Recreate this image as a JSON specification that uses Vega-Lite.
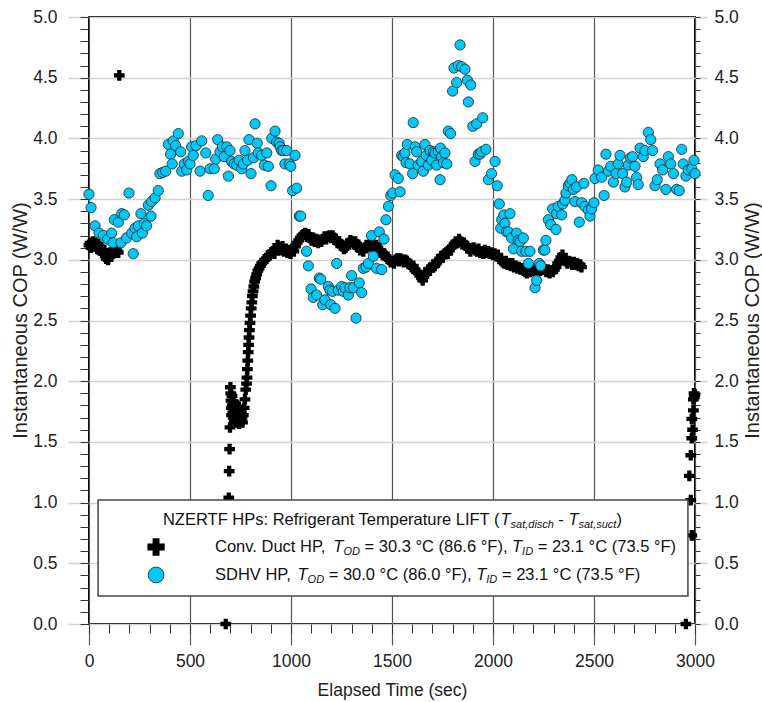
{
"$schema": "https://vega.github.io/schema/vega-lite/v6.json",
"width": 606, "height": 607,
"autosize": {"type": "none"},
"padding": {"left": 89, "top": 17, "right": 67, "bottom": 78},
"background": "white",
"config": {"view": {"stroke": "black", "strokeWidth": 2}, "axis": {"domain": false, "labelOverlap": false, "labelFlush": false}},
"datasets": {
"duct": [
{"t":0,"cop":3.12},{"t":5,"cop":3.14},{"t":10,"cop":3.10},{"t":15,"cop":3.13},{"t":20,"cop":3.15},{"t":25,"cop":3.11},{"t":30,"cop":3.14},{"t":35,"cop":3.12},{"t":40,"cop":3.09},{"t":45,"cop":3.13},{"t":50,"cop":3.11},{"t":55,"cop":3.08},{"t":60,"cop":3.10},{"t":65,"cop":3.06},{"t":70,"cop":3.05},{"t":75,"cop":3.08},{"t":80,"cop":3.03},{"t":85,"cop":3.01},{"t":90,"cop":3.04},{"t":95,"cop":3.00},{"t":100,"cop":3.03},{"t":105,"cop":3.06},{"t":110,"cop":3.04},{"t":115,"cop":3.07},{"t":120,"cop":3.05},{"t":125,"cop":3.08},{"t":130,"cop":3.06},{"t":135,"cop":3.09},{"t":140,"cop":3.07},{"t":145,"cop":3.06},
{"t":150,"cop":4.52},
{"t":677,"cop":0.0},{"t":692,"cop":1.04},{"t":694,"cop":1.26},{"t":696,"cop":1.44},{"t":698,"cop":1.62},
{"t":700,"cop":1.95},{"t":702,"cop":1.90},{"t":703,"cop":1.84},{"t":705,"cop":1.78},{"t":706,"cop":1.72},{"t":708,"cop":1.88},{"t":710,"cop":1.80},{"t":712,"cop":1.74},{"t":714,"cop":1.70},{"t":716,"cop":1.83},{"t":718,"cop":1.77},{"t":720,"cop":1.68},{"t":723,"cop":1.75},{"t":726,"cop":1.81},{"t":728,"cop":1.70},{"t":731,"cop":1.66},{"t":734,"cop":1.73},{"t":737,"cop":1.79},{"t":740,"cop":1.69},{"t":743,"cop":1.65},{"t":746,"cop":1.72},{"t":750,"cop":1.68},{"t":754,"cop":1.74},{"t":757,"cop":1.70},{"t":760,"cop":1.66},{"t":764,"cop":1.72},{"t":768,"cop":1.78},{"t":772,"cop":1.85},{"t":776,"cop":1.93},
{"t":780,"cop":1.98},{"t":782,"cop":2.03},{"t":784,"cop":2.10},{"t":786,"cop":2.17},{"t":788,"cop":2.24},{"t":790,"cop":2.30},{"t":792,"cop":2.36},{"t":794,"cop":2.42},{"t":797,"cop":2.48},{"t":800,"cop":2.54},{"t":803,"cop":2.60},{"t":806,"cop":2.65},{"t":809,"cop":2.70},{"t":812,"cop":2.74},{"t":816,"cop":2.78},{"t":820,"cop":2.82},{"t":825,"cop":2.85},{"t":830,"cop":2.88},{"t":836,"cop":2.91},{"t":842,"cop":2.93},{"t":848,"cop":2.95},{"t":855,"cop":2.97},{"t":862,"cop":2.98},{"t":870,"cop":3.00},{"t":878,"cop":3.01},{"t":886,"cop":3.03},{"t":894,"cop":3.04},{"t":902,"cop":3.06},{"t":910,"cop":3.07},{"t":918,"cop":3.05},{"t":926,"cop":3.09},{"t":934,"cop":3.12},{"t":942,"cop":3.10},{"t":950,"cop":3.08},{"t":958,"cop":3.11},{"t":966,"cop":3.07},{"t":974,"cop":3.09},{"t":982,"cop":3.06},{"t":990,"cop":3.08},{"t":998,"cop":3.05},{"t":1006,"cop":3.09},{"t":1014,"cop":3.07},{"t":1022,"cop":3.11},{"t":1030,"cop":3.14},{"t":1038,"cop":3.16},{"t":1046,"cop":3.18},{"t":1054,"cop":3.20},{"t":1062,"cop":3.21},{"t":1070,"cop":3.22},{"t":1078,"cop":3.19},{"t":1086,"cop":3.21},{"t":1094,"cop":3.18},{"t":1102,"cop":3.16},{"t":1110,"cop":3.18},{"t":1118,"cop":3.15},{"t":1126,"cop":3.17},{"t":1134,"cop":3.14},{"t":1142,"cop":3.16},{"t":1150,"cop":3.15},{"t":1158,"cop":3.17},{"t":1166,"cop":3.19},{"t":1174,"cop":3.17},{"t":1182,"cop":3.19},{"t":1190,"cop":3.20},{"t":1198,"cop":3.18},{"t":1206,"cop":3.20},{"t":1214,"cop":3.18},{"t":1222,"cop":3.16},{"t":1230,"cop":3.14},{"t":1238,"cop":3.15},{"t":1246,"cop":3.13},{"t":1254,"cop":3.11},{"t":1262,"cop":3.09},{"t":1270,"cop":3.10},{"t":1278,"cop":3.12},{"t":1286,"cop":3.14},{"t":1294,"cop":3.16},{"t":1302,"cop":3.15},{"t":1310,"cop":3.13},{"t":1318,"cop":3.15},{"t":1326,"cop":3.13},{"t":1334,"cop":3.10},{"t":1342,"cop":3.08},{"t":1350,"cop":3.09},{"t":1358,"cop":3.07},{"t":1366,"cop":3.10},{"t":1374,"cop":3.12},{"t":1382,"cop":3.11},{"t":1390,"cop":3.13},{"t":1398,"cop":3.11},{"t":1406,"cop":3.13},{"t":1414,"cop":3.10},{"t":1422,"cop":3.12},{"t":1430,"cop":3.10},{"t":1438,"cop":3.08},{"t":1446,"cop":3.06},{"t":1454,"cop":3.04},{"t":1462,"cop":3.05},{"t":1470,"cop":3.03},{"t":1478,"cop":3.01},{"t":1486,"cop":3.00},{"t":1494,"cop":2.98},{"t":1502,"cop":2.99},{"t":1510,"cop":2.97},{"t":1518,"cop":3.00},{"t":1526,"cop":3.01},{"t":1534,"cop":2.99},{"t":1542,"cop":3.01},{"t":1550,"cop":3.00},{"t":1558,"cop":2.98},{"t":1566,"cop":3.00},{"t":1574,"cop":2.99},{"t":1582,"cop":2.97},{"t":1590,"cop":2.96},{"t":1598,"cop":2.94},{"t":1606,"cop":2.95},{"t":1614,"cop":2.92},{"t":1622,"cop":2.90},{"t":1630,"cop":2.89},{"t":1638,"cop":2.87},{"t":1646,"cop":2.85},{"t":1652,"cop":2.83},{"t":1658,"cop":2.86},{"t":1664,"cop":2.88},{"t":1672,"cop":2.90},{"t":1680,"cop":2.92},{"t":1688,"cop":2.91},{"t":1696,"cop":2.94},{"t":1704,"cop":2.96},{"t":1712,"cop":2.95},{"t":1720,"cop":2.97},{"t":1728,"cop":2.99},{"t":1736,"cop":3.01},{"t":1744,"cop":3.03},{"t":1752,"cop":3.02},{"t":1760,"cop":3.05},{"t":1768,"cop":3.06},{"t":1776,"cop":3.05},{"t":1784,"cop":3.08},{"t":1792,"cop":3.10},{"t":1800,"cop":3.11},{"t":1808,"cop":3.13},{"t":1816,"cop":3.15},{"t":1824,"cop":3.14},{"t":1832,"cop":3.17},{"t":1840,"cop":3.15},{"t":1848,"cop":3.13},{"t":1856,"cop":3.14},{"t":1864,"cop":3.12},{"t":1872,"cop":3.10},{"t":1880,"cop":3.09},{"t":1888,"cop":3.07},{"t":1896,"cop":3.09},{"t":1904,"cop":3.10},{"t":1912,"cop":3.08},{"t":1920,"cop":3.07},{"t":1928,"cop":3.09},{"t":1936,"cop":3.06},{"t":1944,"cop":3.07},{"t":1952,"cop":3.05},{"t":1960,"cop":3.08},{"t":1968,"cop":3.06},{"t":1976,"cop":3.07},{"t":1984,"cop":3.05},{"t":1992,"cop":3.06},{"t":2000,"cop":3.04},{"t":2008,"cop":3.05},{"t":2016,"cop":3.03},{"t":2024,"cop":3.04},{"t":2032,"cop":3.01},{"t":2040,"cop":3.00},{"t":2048,"cop":2.98},{"t":2056,"cop":2.97},{"t":2064,"cop":2.99},{"t":2072,"cop":2.96},{"t":2080,"cop":2.97},{"t":2088,"cop":2.95},{"t":2096,"cop":2.97},{"t":2104,"cop":2.94},{"t":2112,"cop":2.95},{"t":2120,"cop":2.93},{"t":2128,"cop":2.94},{"t":2136,"cop":2.92},{"t":2144,"cop":2.93},{"t":2152,"cop":2.91},{"t":2160,"cop":2.90},{"t":2168,"cop":2.89},{"t":2176,"cop":2.91},{"t":2184,"cop":2.90},{"t":2192,"cop":2.92},{"t":2200,"cop":2.91},{"t":2208,"cop":2.93},{"t":2216,"cop":2.90},{"t":2224,"cop":2.89},{"t":2232,"cop":2.91},{"t":2240,"cop":2.93},{"t":2248,"cop":2.94},{"t":2256,"cop":2.92},{"t":2264,"cop":2.90},{"t":2272,"cop":2.92},{"t":2280,"cop":2.89},{"t":2288,"cop":2.91},{"t":2296,"cop":2.90},{"t":2304,"cop":2.92},{"t":2312,"cop":2.94},{"t":2320,"cop":2.97},{"t":2328,"cop":2.99},{"t":2336,"cop":3.02},{"t":2344,"cop":3.04},{"t":2352,"cop":3.01},{"t":2360,"cop":2.99},{"t":2368,"cop":2.97},{"t":2376,"cop":2.99},{"t":2384,"cop":2.98},{"t":2392,"cop":2.96},{"t":2400,"cop":2.98},{"t":2408,"cop":2.96},{"t":2416,"cop":2.97},{"t":2424,"cop":2.95},{"t":2432,"cop":2.96},{"t":2438,"cop":2.94},
{"t":2955,"cop":0.0},{"t":2984,"cop":0.73},{"t":2979,"cop":1.02},{"t":2972,"cop":1.22},{"t":2979,"cop":1.39},{"t":2984,"cop":1.53},{"t":2988,"cop":1.60},{"t":2984,"cop":1.69},{"t":2992,"cop":1.76},{"t":2992,"cop":1.85},{"t":2995,"cop":1.90},{"t":3000,"cop":1.89},{"t":2997,"cop":1.87}
],
"sdhv": [
{"t":0,"cop":3.54},{"t":10,"cop":3.43},{"t":30,"cop":3.28},{"t":50,"cop":3.22},{"t":71,"cop":3.20},{"t":92,"cop":3.17},{"t":112,"cop":3.22},{"t":120,"cop":3.14},{"t":125,"cop":3.33},{"t":145,"cop":3.31},{"t":158,"cop":3.14},{"t":162,"cop":3.38},{"t":175,"cop":3.37},{"t":186,"cop":3.18},{"t":198,"cop":3.55},{"t":211,"cop":3.22},{"t":219,"cop":3.05},{"t":228,"cop":3.26},{"t":236,"cop":3.19},{"t":244,"cop":3.28},{"t":257,"cop":3.38},{"t":264,"cop":3.22},{"t":274,"cop":3.30},{"t":285,"cop":3.28},{"t":294,"cop":3.45},{"t":307,"cop":3.36},{"t":310,"cop":3.48},{"t":327,"cop":3.51},{"t":343,"cop":3.57},{"t":351,"cop":3.71},{"t":365,"cop":3.72},{"t":380,"cop":3.73},{"t":393,"cop":3.95},{"t":404,"cop":3.87},{"t":412,"cop":3.79},{"t":417,"cop":3.98},{"t":429,"cop":3.94},{"t":442,"cop":4.04},{"t":454,"cop":3.89},{"t":459,"cop":3.73},{"t":472,"cop":3.79},{"t":484,"cop":3.74},{"t":492,"cop":3.81},{"t":500,"cop":3.79},{"t":508,"cop":3.93},{"t":516,"cop":3.86},{"t":530,"cop":3.94},{"t":550,"cop":3.73},{"t":558,"cop":3.98},{"t":578,"cop":3.88},{"t":590,"cop":3.53},{"t":599,"cop":3.75},{"t":620,"cop":3.75},{"t":627,"cop":3.83},{"t":637,"cop":3.99},{"t":649,"cop":3.89},{"t":660,"cop":3.93},{"t":670,"cop":3.85},{"t":682,"cop":3.93},{"t":690,"cop":3.69},{"t":698,"cop":3.90},{"t":706,"cop":3.81},{"t":718,"cop":3.79},{"t":731,"cop":3.78},{"t":743,"cop":3.82},{"t":756,"cop":3.75},{"t":764,"cop":3.79},{"t":772,"cop":3.90},{"t":785,"cop":3.82},{"t":792,"cop":3.99},{"t":802,"cop":3.71},{"t":814,"cop":3.84},{"t":822,"cop":4.12},{"t":833,"cop":3.96},{"t":838,"cop":3.88},{"t":855,"cop":3.86},{"t":868,"cop":3.78},{"t":880,"cop":3.88},{"t":888,"cop":3.77},{"t":901,"cop":3.61},{"t":905,"cop":4.00},{"t":921,"cop":4.06},{"t":929,"cop":3.97},{"t":941,"cop":3.96},{"t":946,"cop":3.93},{"t":954,"cop":3.90},{"t":962,"cop":3.90},{"t":970,"cop":3.79},{"t":979,"cop":3.90},{"t":992,"cop":3.79},{"t":999,"cop":3.77},{"t":1008,"cop":3.57},{"t":1020,"cop":3.86},{"t":1028,"cop":3.59},{"t":1041,"cop":3.36},{"t":1048,"cop":3.36},{"t":1077,"cop":3.07},{"t":1086,"cop":2.95},{"t":1099,"cop":2.76},{"t":1110,"cop":2.69},{"t":1127,"cop":2.71},{"t":1140,"cop":2.85},{"t":1147,"cop":2.84},{"t":1157,"cop":2.63},{"t":1168,"cop":2.67},{"t":1185,"cop":2.78},{"t":1193,"cop":2.75},{"t":1197,"cop":2.63},{"t":1206,"cop":2.74},{"t":1218,"cop":2.60},{"t":1226,"cop":2.97},{"t":1234,"cop":2.75},{"t":1251,"cop":2.78},{"t":1259,"cop":2.74},{"t":1267,"cop":2.77},{"t":1284,"cop":2.71},{"t":1292,"cop":2.77},{"t":1300,"cop":2.87},{"t":1309,"cop":2.77},{"t":1322,"cop":2.52},{"t":1338,"cop":2.81},{"t":1350,"cop":2.73},{"t":1358,"cop":2.93},{"t":1371,"cop":2.94},{"t":1383,"cop":2.97},{"t":1399,"cop":3.20},{"t":1408,"cop":3.03},{"t":1424,"cop":2.93},{"t":1437,"cop":3.23},{"t":1449,"cop":2.92},{"t":1460,"cop":3.17},{"t":1470,"cop":3.33},{"t":1482,"cop":3.44},{"t":1494,"cop":3.53},{"t":1503,"cop":3.55},{"t":1515,"cop":3.70},{"t":1531,"cop":3.67},{"t":1540,"cop":3.56},{"t":1548,"cop":3.86},{"t":1556,"cop":3.85},{"t":1564,"cop":3.88},{"t":1570,"cop":3.80},{"t":1576,"cop":3.95},{"t":1589,"cop":3.79},{"t":1602,"cop":3.71},{"t":1605,"cop":4.13},{"t":1615,"cop":3.93},{"t":1622,"cop":3.89},{"t":1630,"cop":3.78},{"t":1647,"cop":3.81},{"t":1655,"cop":3.73},{"t":1663,"cop":3.95},{"t":1670,"cop":3.86},{"t":1680,"cop":3.78},{"t":1688,"cop":3.90},{"t":1697,"cop":3.82},{"t":1705,"cop":3.89},{"t":1713,"cop":3.88},{"t":1721,"cop":3.78},{"t":1729,"cop":3.89},{"t":1738,"cop":3.66},{"t":1740,"cop":3.92},{"t":1746,"cop":3.85},{"t":1755,"cop":3.80},{"t":1762,"cop":3.88},{"t":1771,"cop":3.79},{"t":1779,"cop":4.06},{"t":1790,"cop":4.04},{"t":1800,"cop":4.39},{"t":1807,"cop":4.58},{"t":1820,"cop":4.46},{"t":1829,"cop":4.60},{"t":1837,"cop":4.77},{"t":1845,"cop":4.59},{"t":1861,"cop":4.57},{"t":1873,"cop":4.48},{"t":1878,"cop":4.30},{"t":1890,"cop":4.44},{"t":1900,"cop":4.10},{"t":1911,"cop":3.81},{"t":1919,"cop":4.12},{"t":1927,"cop":3.87},{"t":1936,"cop":3.87},{"t":1944,"cop":3.89},{"t":1949,"cop":4.17},{"t":1965,"cop":3.91},{"t":1977,"cop":3.66},{"t":1993,"cop":3.71},{"t":2010,"cop":3.81},{"t":2021,"cop":3.61},{"t":2031,"cop":3.46},{"t":2038,"cop":3.26},{"t":2043,"cop":3.33},{"t":2054,"cop":3.37},{"t":2059,"cop":3.30},{"t":2067,"cop":3.23},{"t":2076,"cop":3.23},{"t":2084,"cop":3.38},{"t":2092,"cop":3.18},{"t":2101,"cop":3.09},{"t":2117,"cop":3.22},{"t":2125,"cop":3.16},{"t":2134,"cop":3.15},{"t":2142,"cop":3.07},{"t":2150,"cop":3.18},{"t":2163,"cop":3.07},{"t":2175,"cop":2.97},{"t":2183,"cop":3.07},{"t":2208,"cop":2.77},{"t":2216,"cop":2.83},{"t":2229,"cop":2.97},{"t":2236,"cop":2.95},{"t":2249,"cop":3.08},{"t":2257,"cop":3.08},{"t":2262,"cop":3.16},{"t":2274,"cop":3.33},{"t":2285,"cop":3.29},{"t":2295,"cop":3.42},{"t":2312,"cop":3.25},{"t":2315,"cop":3.38},{"t":2323,"cop":3.44},{"t":2340,"cop":3.37},{"t":2345,"cop":3.46},{"t":2356,"cop":3.49},{"t":2361,"cop":3.55},{"t":2373,"cop":3.61},{"t":2381,"cop":3.63},{"t":2390,"cop":3.66},{"t":2398,"cop":3.58},{"t":2406,"cop":3.48},{"t":2414,"cop":3.60},{"t":2427,"cop":3.31},{"t":2439,"cop":3.47},{"t":2450,"cop":3.63},{"t":2455,"cop":3.44},{"t":2472,"cop":3.41},{"t":2480,"cop":3.36},{"t":2488,"cop":3.42},{"t":2500,"cop":3.47},{"t":2505,"cop":3.67},{"t":2521,"cop":3.74},{"t":2538,"cop":3.68},{"t":2550,"cop":3.53},{"t":2559,"cop":3.87},{"t":2571,"cop":3.73},{"t":2583,"cop":3.77},{"t":2596,"cop":3.64},{"t":2609,"cop":3.71},{"t":2620,"cop":3.79},{"t":2629,"cop":3.86},{"t":2642,"cop":3.71},{"t":2653,"cop":3.60},{"t":2662,"cop":3.64},{"t":2670,"cop":3.78},{"t":2681,"cop":3.84},{"t":2691,"cop":3.85},{"t":2703,"cop":3.77},{"t":2711,"cop":3.68},{"t":2719,"cop":3.62},{"t":2728,"cop":3.92},{"t":2744,"cop":3.85},{"t":2752,"cop":3.90},{"t":2769,"cop":4.05},{"t":2781,"cop":3.99},{"t":2790,"cop":3.90},{"t":2802,"cop":3.61},{"t":2813,"cop":3.66},{"t":2827,"cop":3.79},{"t":2840,"cop":3.74},{"t":2856,"cop":3.58},{"t":2868,"cop":3.85},{"t":2880,"cop":3.79},{"t":2893,"cop":3.71},{"t":2909,"cop":3.58},{"t":2922,"cop":3.57},{"t":2934,"cop":3.91},{"t":2942,"cop":3.79},{"t":2955,"cop":3.69},{"t":2967,"cop":3.74},{"t":2984,"cop":3.75},{"t":2995,"cop":3.82},{"t":3000,"cop":3.71}
],
"legendNormal": [
{"text":"NZERTF HPs:  Refrigerant Temperature LIFT (","t":366,"cop":0.857},
{"text":"-","t":2323.3,"cop":0.857},
{"text":")","t":2612,"cop":0.857},
{"text":"Conv. Duct HP,","t":623.8,"cop":0.634},
{"text":"= 30.3 °C (86.6 °F),","t":1363.9,"cop":0.634},
{"text":"= 23.1 °C (73.5 °F)","t":2221.3,"cop":0.634},
{"text":"SDHV HP,","t":623.8,"cop":0.404},
{"text":"= 30.0 °C (86.0 °F),","t":1186.6,"cop":0.404},
{"text":"= 23.1 °C (73.5 °F)","t":2044.1,"cop":0.404}
],
"legendItalic": [
{"text":"T","t":2037,"cop":0.857},
{"text":"T","t":2373.3,"cop":0.857},
{"text":"T","t":1209.4,"cop":0.634},
{"text":"T","t":2094.1,"cop":0.634},
{"text":"T","t":1032.2,"cop":0.404},
{"text":"T","t":1916.8,"cop":0.404}
],
"legendSub": [
{"text":"sat,disch","t":2087,"cop":0.857},
{"text":"sat,suct","t":2423.3,"cop":0.857},
{"text":"OD","t":1259.4,"cop":0.634},
{"text":"ID","t":2144.1,"cop":0.634},
{"text":"OD","t":1082.2,"cop":0.404},
{"text":"ID","t":1966.8,"cop":0.404}
]
},
"layer": [
{
"data": {"name": "duct"},
"mark": {"type": "point", "shape": "cross", "filled": true, "color": "black", "size": 115, "opacity": 1, "clip": false},
"encoding": {
"x": {"field": "t", "type": "quantitative", "scale": {"domain": [0, 3000], "nice": false, "zero": false},
"axis": {"orient": "bottom", "values": [0,500,1000,1500,2000,2500,3000], "format": "d", "title": "Elapsed Time (sec)", "grid": true, "gridColor": "#555555", "gridWidth": 1.2, "tickSize": 21, "tickColor": "#555555", "tickWidth": 1.2, "labelFont": "Liberation Sans", "labelFontSize": 17.5, "labelColor": "#222222", "labelPadding": 7, "titleFont": "Liberation Sans", "titleFontSize": 17.5, "titleFontWeight": "normal", "titleColor": "#222222", "titleX": 303, "titleY": 66, "titleBaseline": "middle", "titleAlign": "center"}},
"y": {"field": "cop", "type": "quantitative", "scale": {"domain": [0, 5], "nice": false, "zero": false},
"axis": {"orient": "left", "values": [0,0.5,1,1.5,2,2.5,3,3.5,4,4.5,5], "format": ".1f", "title": "Instantaneous COP (W/W)", "grid": true, "gridColor": "#d2d2d2", "gridWidth": 1.6, "tickSize": 21, "tickColor": "#d2d2d2", "tickWidth": 1.6, "labelFont": "Liberation Sans", "labelFontSize": 17.5, "labelColor": "#222222", "labelPadding": 11, "titleFont": "Liberation Sans", "titleFontSize": 20, "titleFontWeight": "normal", "titleColor": "#222222", "titleX": -69, "titleY": 303, "titleAngle": 270, "titleBaseline": "middle", "titleAlign": "center"}}
}
},
{
"data": {"name": "sdhv"},
"mark": {"type": "circle", "color": "#00c8fa", "stroke": "#222222", "strokeWidth": 0.8, "size": 105, "opacity": 1, "clip": false},
"encoding": {
"x": {"field": "t", "type": "quantitative", "scale": {"domain": [0, 3000], "nice": false, "zero": false},
"axis": {"orient": "bottom", "values": [0,100,200,300,400,500,600,700,800,900,1000,1100,1200,1300,1400,1500,1600,1700,1800,1900,2000,2100,2200,2300,2400,2500,2600,2700,2800,2900,3000], "labels": false, "grid": false, "tickSize": 9, "tickColor": "#333333", "tickWidth": 1, "title": null}},
"y": {"field": "cop", "type": "quantitative", "scale": {"domain": [0, 5], "nice": false, "zero": false},
"axis": {"orient": "left", "values": [0,0.1,0.2,0.3,0.4,0.5,0.6,0.7,0.8,0.9,1,1.1,1.2,1.3,1.4,1.5,1.6,1.7,1.8,1.9,2,2.1,2.2,2.3,2.4,2.5,2.6,2.7,2.8,2.9,3,3.1,3.2,3.3,3.4,3.5,3.6,3.7,3.8,3.9,4,4.1,4.2,4.3,4.4,4.5,4.6,4.7,4.8,4.9,5], "labels": false, "grid": false, "tickSize": 9, "tickColor": "#333333", "tickWidth": 1, "title": null}}
}
},
{
"data": {"values": [{}]},
"mark": {"type": "rect", "fill": "white", "stroke": "#444444", "strokeWidth": 1.5},
"encoding": {
"x": {"datum": 45, "type": "quantitative", "axis": null},
"x2": {"datum": 2965},
"y": {"datum": 0.231, "type": "quantitative", "axis": null},
"y2": {"datum": 1.021}
}
},
{
"data": {"name": "legendNormal"},
"mark": {"type": "text", "align": "left", "baseline": "middle", "font": "Liberation Sans", "fontSize": 16.5, "color": "#111111"},
"encoding": {
"x": {"field": "t", "type": "quantitative", "axis": null},
"y": {"field": "cop", "type": "quantitative",
"axis": {"orient": "right", "values": [0,0.5,1,1.5,2,2.5,3,3.5,4,4.5,5], "format": ".1f", "title": "Instantaneous COP (W/W)", "grid": false, "tickSize": 12, "tickColor": "#d2d2d2", "tickWidth": 1.6, "labelFont": "Liberation Sans", "labelFontSize": 17.5, "labelColor": "#222222", "labelPadding": 7, "titleFont": "Liberation Sans", "titleFontSize": 20, "titleFontWeight": "normal", "titleColor": "#222222", "titleX": 57, "titleY": 303, "titleAngle": 270, "titleBaseline": "middle", "titleAlign": "center"}},
"text": {"field": "text"}
}
},
{
"data": {"name": "legendItalic"},
"mark": {"type": "text", "align": "left", "baseline": "middle", "font": "Liberation Sans", "fontSize": 16.5, "fontStyle": "italic", "color": "#111111"},
"encoding": {
"x": {"field": "t", "type": "quantitative", "axis": null},
"y": {"field": "cop", "type": "quantitative",
"axis": {"orient": "right", "values": [0,0.1,0.2,0.3,0.4,0.5,0.6,0.7,0.8,0.9,1,1.1,1.2,1.3,1.4,1.5,1.6,1.7,1.8,1.9,2,2.1,2.2,2.3,2.4,2.5,2.6,2.7,2.8,2.9,3,3.1,3.2,3.3,3.4,3.5,3.6,3.7,3.8,3.9,4,4.1,4.2,4.3,4.4,4.5,4.6,4.7,4.8,4.9,5], "labels": false, "grid": false, "tickSize": 5, "tickColor": "#333333", "tickWidth": 1, "title": null}},
"text": {"field": "text"}
}
},
{
"data": {"name": "legendSub"},
"mark": {"type": "text", "align": "left", "baseline": "middle", "font": "Liberation Sans", "fontSize": 11, "fontStyle": "italic", "color": "#111111", "dy": 5},
"encoding": {
"x": {"field": "t", "type": "quantitative", "axis": null},
"y": {"field": "cop", "type": "quantitative", "axis": null},
"text": {"field": "text"}
}
},
{
"data": {"values": [{"series": "Conv. Duct HP"}]},
"mark": {"type": "point", "shape": "cross", "filled": true, "color": "black", "size": 300, "opacity": 1},
"encoding": {
"x": {"datum": 332, "type": "quantitative", "axis": null},
"y": {"datum": 0.634, "type": "quantitative", "axis": null}
}
},
{
"data": {"values": [{"series": "SDHV HP"}]},
"mark": {"type": "circle", "color": "#00c8fa", "stroke": "#222222", "strokeWidth": 0.8, "size": 250, "opacity": 1},
"encoding": {
"x": {"datum": 332, "type": "quantitative", "axis": null},
"y": {"datum": 0.404, "type": "quantitative", "axis": null}
}
}
],
"resolve": {"axis": {"x": "independent", "y": "independent"}}
}
